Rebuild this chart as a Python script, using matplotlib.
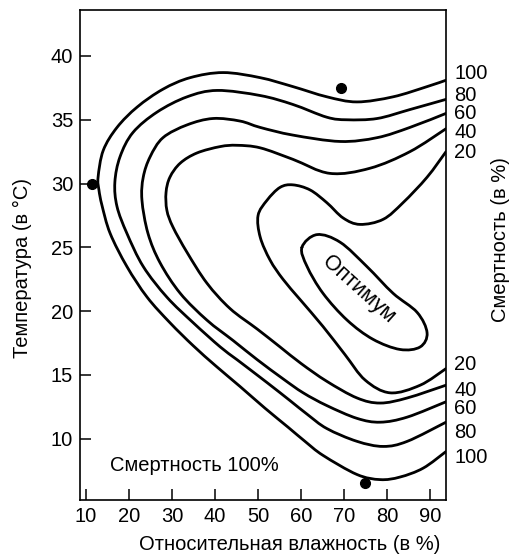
import matplotlib
matplotlib.use('Agg')
import matplotlib.pyplot as plt
from matplotlib.path import Path
from matplotlib.patches import PathPatch

plt.rcParams['font.family'] = ['Liberation Sans', 'DejaVu Sans']

# --- данные (влажность %, температура °C) ---
smert_100_x = [93.7, 89.3, 81.4, 73.0, 66.0, 58.1, 50.5, 41.9, 34.2, 27.9, 21.9, 17.2, 14.0, 12.8,
               13.0, 13.7, 15.6, 19.5, 24.2, 29.5, 34.9, 40.2, 45.8, 51.6, 57.0, 60.9, 65.1, 73.0,
               78.4, 83.0, 88.4, 93.7]
smert_100_y = [38.1, 37.6, 36.8, 36.4, 36.8, 37.6, 38.3, 38.7, 38.3, 37.4, 36.0, 34.4, 32.6, 30.5,
               29.5, 28.3, 26.1, 23.5, 21.1, 19.1, 17.3, 15.7, 14.1, 12.4, 10.9, 9.8, 8.7, 7.2,
               6.8, 7.0, 7.7, 9.0]

smert_80_x = [93.7, 85.3, 77.7, 70.7, 66.0, 58.1, 50.5, 40.5, 33.5, 26.5, 20.9, 17.9, 16.7, 17.2,
              19.5, 23.3, 28.8, 34.9, 41.2, 45.1, 52.1, 57.4, 61.5, 66.0, 73.0, 79.1, 84.7, 93.7]
smert_80_y = [36.6, 35.8, 35.1, 35.0, 35.2, 36.2, 36.9, 37.3, 36.8, 35.6, 34.0, 32.1, 30.1, 28.2,
              26.1, 23.5, 21.1, 19.1, 17.2, 16.2, 14.4, 13.0, 11.9, 10.8, 9.8, 9.4, 9.8, 11.3]

smert_60_x = [93.7, 85.3, 77.7, 69.1, 58.1, 50.5, 45.8, 39.5, 33.5, 27.9, 24.9, 23.3, 23.0, 24.4,
              27.2, 31.9, 38.1, 44.2, 49.8, 55.8, 60.5, 66.0, 73.0, 78.4, 84.7, 93.7]
smert_60_y = [35.5, 34.4, 33.6, 33.3, 33.8, 34.4, 34.9, 35.1, 34.6, 33.6, 32.1, 30.5, 28.7, 26.1,
              23.8, 21.4, 19.3, 17.7, 16.2, 14.7, 13.6, 12.6, 11.6, 11.3, 11.7, 12.9]

smert_40_x = [93.7, 85.3, 76.0, 66.7, 58.1, 50.5, 45.1, 41.2, 35.8, 31.9, 29.5, 28.6, 28.8, 30.2,
              33.5, 38.1, 43.5, 49.8, 55.1, 60.0, 66.0, 73.0, 78.4, 84.7, 93.7]
smert_40_y = [34.3, 32.5, 31.2, 30.8, 31.9, 32.8, 33.0, 32.9, 32.4, 31.6, 30.5, 29.3, 27.9, 26.6,
              24.6, 22.2, 20.2, 18.6, 17.2, 15.9, 14.5, 13.2, 12.8, 13.2, 14.2]

smert_20_x = [93.7, 89.3, 83.7, 79.1, 73.7, 69.8, 66.0, 62.1, 58.1, 55.1, 52.1, 50.0, 50.5, 52.8,
              55.8, 59.8, 65.1, 70.2, 74.9, 80.7, 87.7, 93.7]
smert_20_y = [32.5, 30.5, 28.5, 27.2, 26.8, 27.3, 28.5, 29.5, 29.9, 29.7, 28.7, 27.5, 25.8, 24.0,
              22.5, 20.9, 18.8, 16.6, 14.6, 13.6, 14.2, 15.5]

optimum_x = [60.2, 63.7, 69.1, 75.3, 81.4, 87.0, 89.3, 87.7, 83.0, 76.7, 70.7, 65.1, 61.4, 60.2]
optimum_y = [25.0, 26.0, 25.4, 23.5, 21.4, 19.9, 18.3, 17.2, 17.0, 17.8, 19.3, 21.4, 23.5, 25.0]

tochki_x = [11.4, 69.3, 74.9]
tochki_y = [30.0, 37.5, 6.5]

urovni = ['100', '80', '60', '40', '20']
podpisi_verh_y = [38.6, 36.9, 35.5, 34.0, 32.4]
podpisi_niz_y = [8.5, 10.5, 12.4, 13.8, 15.8]

x_ticks = [10, 20, 30, 40, 50, 60, 70, 80, 90]
y_ticks = [10, 15, 20, 25, 30, 35, 40]


def gladkaya_liniya(xs, ys, zamknuta=False):
    """Кривая Безье через снятые точки (Catmull-Rom), рисует сам matplotlib."""
    pts = list(zip(xs, ys))
    if zamknuta:
        pts = pts[:-1]
        ext = [pts[-1]] + pts + [pts[0], pts[1]]
        nseg = len(pts)
    else:
        ext = [pts[0]] + pts + [pts[-1]]
        nseg = len(pts) - 1
    verts = [ext[1]]
    codes = [Path.MOVETO]
    for i in range(1, nseg + 1):
        p0, p1, p2, p3 = ext[i - 1], ext[i], ext[i + 1], ext[i + 2]
        c1 = (p1[0] + (p2[0] - p0[0]) / 6, p1[1] + (p2[1] - p0[1]) / 6)
        c2 = (p2[0] - (p3[0] - p1[0]) / 6, p2[1] - (p3[1] - p1[1]) / 6)
        verts += [c1, c2, p2]
        codes += [Path.CURVE4] * 3
    return Path(verts, codes)


# --- рисунок ---
fig = plt.figure(figsize=(5.11, 5.58), dpi=100)
ax = fig.add_axes([0.1566, 0.1039, 0.7162, 0.8781])

krivye = [(smert_100_x, smert_100_y, False), (smert_80_x, smert_80_y, False),
          (smert_60_x, smert_60_y, False), (smert_40_x, smert_40_y, False),
          (smert_20_x, smert_20_y, False), (optimum_x, optimum_y, True)]
for xs, ys, zam in krivye:
    ax.add_patch(PathPatch(gladkaya_liniya(xs, ys, zam), fill=False, edgecolor='black',
                           lw=2.0, joinstyle='round', capstyle='round'))

ax.plot(tochki_x, tochki_y, 'o', color='black', ms=7, clip_on=False)

ax.set_xlim(8.6, 93.7)
ax.set_ylim(5.2, 43.6)
ax.set_xticks(x_ticks)
ax.set_yticks(y_ticks)
ax.tick_params(direction='in', length=8, width=1.1, labelsize=14.5, pad=5)
for s in ax.spines.values():
    s.set_linewidth(1.2)

# подписи уровней справа
tr = ax.get_yaxis_transform()
for txt, y in zip(urovni, podpisi_verh_y):
    ax.text(1.022, y, txt, transform=tr, ha='left', va='center', fontsize=14.5)
for txt, y in zip(urovni, podpisi_niz_y):
    ax.text(1.022, y, txt, transform=tr, ha='left', va='center', fontsize=14.5)

ax.text(35.3, 7.9, 'Смертность 100%', ha='center', va='center', fontsize=14.5)
ax.text(73.3, 21.7, 'Оптимум', rotation=-42, rotation_mode='anchor',
        ha='center', va='center', fontsize=15.5)

fig.text(290 / 511, 1 - 544 / 558, 'Относительная влажность (в %)',
         ha='center', va='center', fontsize=14.5)
fig.text(22 / 511, 1 - 268 / 558, 'Температура (в °C)', rotation=90,
         ha='center', va='center', fontsize=14.5)
fig.text(500 / 511, 1 - 240 / 558, 'Смертность (в %)', rotation=90,
         ha='center', va='center', fontsize=14.5)

fig.savefig('out.png', dpi=100)
